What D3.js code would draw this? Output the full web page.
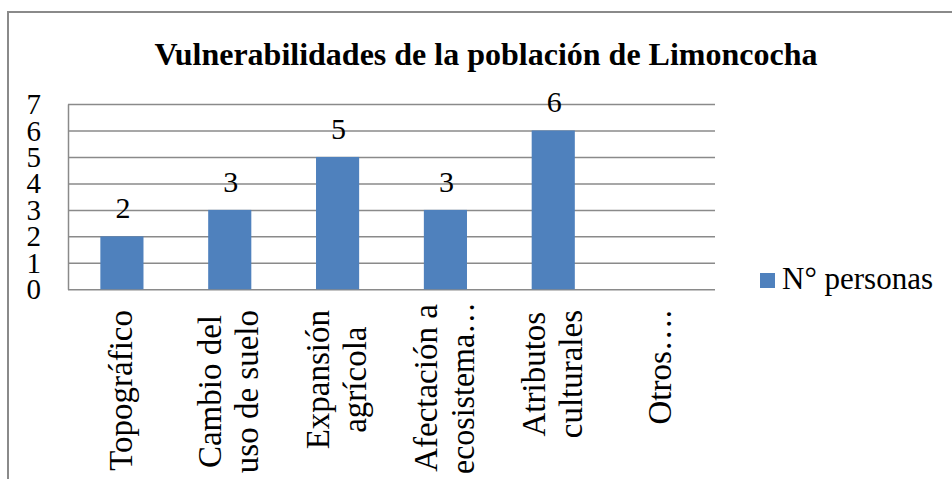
<!DOCTYPE html>
<html>
<head>
<meta charset="utf-8">
<script src="https://cdn.jsdelivr.net/npm/d3@7"></script>
<style>
  html, body { margin: 0; padding: 0; background: #fff; }
  svg { display: block; }
  svg text { font-family: "Liberation Serif", "Times New Roman", Times, "DejaVu Serif", "Noto Serif", serif !important; fill: #000; }
</style>
</head>
<body>
<script>
const chartTitle = "Vulnerabilidades de la población de Limoncocha";
const categories = ["Topográfico", "Cambio del\nuso de suelo", "Expansión\nagrícola", "Afectación a\necosistema…", "Atributos\nculturales", "Otros…."];
const values = [2, 3, 5, 3, 6, null];
const yTicks = [0, 1, 2, 3, 4, 5, 6, 7];
const seriesName = "N° personas";

const W = 952, H = 479;
const FONT = "'Liberation Serif', 'Times New Roman', Times, 'DejaVu Serif', 'Noto Serif', serif";
const plot = { left: 68, right: 715, top: 104, bottom: 289.3 };
const barColor = "#4F81BD";
const gridColor = "#8a8a8a";

const svg = d3.select("body").append("svg").attr("width", W).attr("height", H)
  .attr("font-family", FONT);

// outer chart border (extends beyond the right/bottom of the view)
svg.append("rect")
  .attr("x", 8).attr("y", 12).attr("width", W + 20).attr("height", H + 20)
  .attr("fill", "#fff").attr("stroke", gridColor).attr("stroke-width", 2);

// title
svg.append("text")
  .attr("x", 486).attr("y", 65)
  .attr("text-anchor", "middle")
  .style("font-family", FONT)
  .style("font-size", "32px").style("font-weight", "bold")
  .text(chartTitle);

const x = d3.scaleBand().domain(categories).range([plot.left, plot.right]).padding(0);
const y = d3.scaleLinear().domain([0, 7]).range([plot.bottom, plot.top]);

// y axis with gridlines
const yAxis = svg.append("g")
  .attr("transform", `translate(${plot.left},0)`)
  .call(d3.axisLeft(y).tickValues(yTicks).tickFormat(d3.format("d"))
    .tickSize(-(plot.right - plot.left)).tickSizeOuter(0).tickPadding(27));
yAxis.attr("font-family", FONT).attr("font-size", null);
yAxis.select(".domain").attr("stroke", gridColor).attr("stroke-width", 1.5);
yAxis.selectAll(".tick line").attr("stroke", gridColor).attr("stroke-width", 1.5);
yAxis.selectAll(".tick text")
  .attr("dy", "0.33em")
  .style("font-size", "29px")
  .style("font-family", FONT)
  .attr("fill", "#000");

// bars
const bw = x.bandwidth() * 0.4;
svg.append("g").selectAll("rect")
  .data(categories.map((c, i) => ({ c, v: values[i] })).filter(d => d.v != null))
  .join("rect")
  .attr("x", d => x(d.c) + (x.bandwidth() - bw) / 2)
  .attr("width", bw)
  .attr("y", d => y(d.v))
  .attr("height", d => y(0) - y(d.v))
  .attr("fill", barColor);

// data labels
svg.append("g").selectAll("text")
  .data(categories.map((c, i) => ({ c, v: values[i] })).filter(d => d.v != null))
  .join("text")
  .attr("x", d => x(d.c) + x.bandwidth() / 2 + 1)
  .attr("y", d => y(d.v) - 18)
  .attr("text-anchor", "middle")
  .style("font-family", FONT)
  .style("font-size", "30px")
  .text(d => d.v);

// x axis with rotated multi-line labels
const xAxis = svg.append("g")
  .attr("transform", `translate(0,${plot.bottom})`)
  .call(d3.axisBottom(x).tickSize(0).tickFormat(""));
xAxis.attr("font-family", FONT).attr("font-size", null);
xAxis.select(".domain").remove();
xAxis.selectAll(".tick text").remove();
const fs = 33, lh = 37, maxAllowed = 172;
xAxis.selectAll(".tick").each(function(d) {
  const lines = d.split("\n");
  const n = lines.length;
  const g = d3.select(this).append("g").attr("transform", "rotate(-90)");
  const texts = lines.map((ln, i) => g.append("text")
    .attr("text-anchor", "middle")
    .attr("y", (i - (n - 1) / 2) * lh + 10)
    .style("font-family", FONT)
    .style("font-size", fs + "px")
    .text(ln));
  // keep long lines inside the visible label area
  texts.forEach(t => {
    const len = t.node().getComputedTextLength();
    if (len > maxAllowed) t.attr("textLength", maxAllowed).attr("lengthAdjust", "spacingAndGlyphs");
  });
  const lens = texts.map(t => Math.min(maxAllowed, t.node().getComputedTextLength()));
  const maxLen = d3.max(lens);
  const topY = Math.max(293, Math.min(310, 474 - maxLen));
  texts.forEach(t => t.attr("x", -(topY - plot.bottom + maxLen / 2)));
});

// legend
const lg = svg.append("g");
lg.append("rect").attr("x", 760).attr("y", 273).attr("width", 15).attr("height", 15).attr("fill", barColor);
lg.append("text").attr("x", 782).attr("y", 289)
  .style("font-family", FONT).style("font-size", "31px").text(seriesName);
</script>
</body>
</html>
